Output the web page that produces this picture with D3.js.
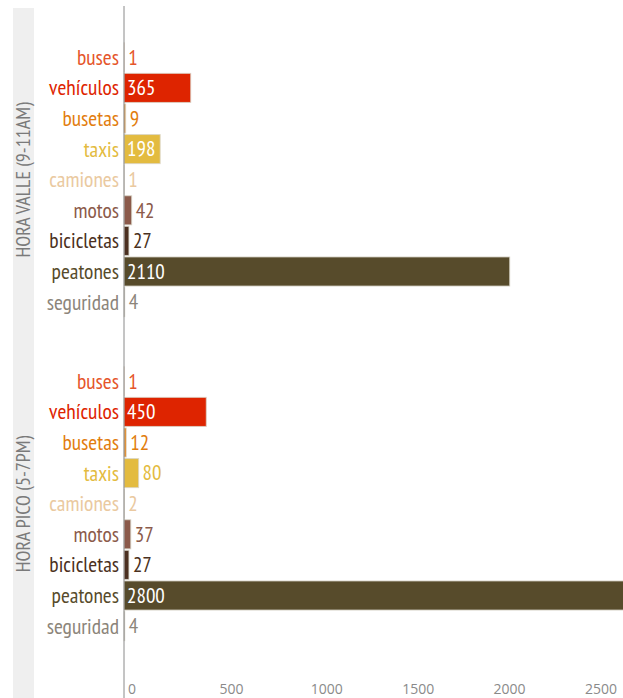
<!DOCTYPE html>
<html>
<head>
<meta charset="utf-8">
<script src="https://cdn.jsdelivr.net/npm/d3@7/dist/d3.min.js"></script>
<style>
  html, body { margin: 0; padding: 0; background: #fff; }
  svg { display: block; font-family: "PT Sans Narrow", "Liberation Sans Narrow", "Roboto Condensed", "DejaVu Sans Condensed", "Open Sans", sans-serif; }
  .tick-label { font-family: "Open Sans", "Noto Sans", sans-serif; }
</style>
</head>
<body>
<svg id="chart" width="623" height="698"></svg>
<script>
// Conteo por modo de transporte en dos franjas horarias
const groups = ["HORA VALLE (9-11AM)", "HORA PICO (5-7PM)"];
const categories = ["buses", "vehículos", "busetas", "taxis", "camiones", "motos", "bicicletas", "peatones", "seguridad"];
const valleValues = [1, 365, 9, 198, 1, 42, 27, 2110, 4];
const picoValues  = [1, 450, 12, 80, 2, 37, 27, 2800, 4];
const colors = ["#e5552a", "#de2400", "#e27d0e", "#e3bb40", "#eac9a0", "#8b5a4a", "#4b3020", "#574b2b", "#8c857a"];
const ticks = [0, 500, 1000, 1500, 2000, 2500];

const seriesByGroup = [valleValues, picoValues];

const svg = d3.select("#chart");
const W = 623, H = 698;

const x = d3.scaleLinear().domain([0, 2500]).range([124, 581]);

const g = d3.scaleBand().domain(groups).range([18, 666]).paddingInner(0).paddingOuter(0);
const y = d3.scaleBand().domain(categories).range([24, 24 + 275.4]).paddingInner(0.05).paddingOuter(0.025);

const color = d3.scaleOrdinal().domain(categories).range(colors);

// side strip holding the group titles
svg.append("rect")
  .attr("x", 13).attr("y", 8)
  .attr("width", 21).attr("height", H - 8)
  .attr("fill", "#efefef");

groups.forEach((grp, gi) => {
  const top = g(grp);
  const data = categories.map((c, i) => ({ cat: c, value: seriesByGroup[gi][i] }));
  const layer = svg.append("g").attr("transform", `translate(0,${top})`);

  // group title, rotated
  layer.append("text")
    .attr("transform", `translate(30,${g.bandwidth() / 2}) rotate(-90)`)
    .attr("text-anchor", "middle")
    .attr("fill", "#7a7a7a")
    .attr("font-size", 20)
    .text(grp);

  // bars
  layer.selectAll("rect.bar")
    .data(data)
    .enter().append("rect")
    .attr("class", "bar")
    .attr("x", x(0))
    .attr("y", d => y(d.cat))
    .attr("width", d => Math.max(x(d.value) - x(0), 0))
    .attr("height", y.bandwidth())
    .attr("fill", d => color(d.cat))
    .attr("stroke", "#d8d4c8")
    .attr("stroke-opacity", 0.8)
    .attr("stroke-width", 1);

  // category labels
  layer.selectAll("text.cat")
    .data(data)
    .enter().append("text")
    .attr("class", "cat")
    .attr("x", 119)
    .attr("y", d => y(d.cat) + y.bandwidth() / 2)
    .attr("dy", "0.35em")
    .attr("text-anchor", "end")
    .attr("font-size", 21.5)
    .attr("fill", d => color(d.cat))
    .text(d => d.cat);

  // value labels: inside the bar when it fits, otherwise just past its end
  layer.selectAll("text.val")
    .data(data)
    .enter().append("text")
    .attr("class", "val")
    .attr("y", d => y(d.cat) + y.bandwidth() / 2)
    .attr("dy", "0.35em")
    .attr("font-size", 21)
    .text(d => d.value)
    .each(function (d) {
      const t = d3.select(this);
      const w = this.getComputedTextLength();
      const bw = x(d.value) - x(0);
      if (bw > w + 6) {
        t.attr("x", x(0) + 3).attr("fill", "#fff");
      } else {
        t.attr("x", x(d.value) + 4).attr("fill", color(d.cat));
      }
    });
});

// x axis: vertical baseline plus tick labels along the bottom
svg.append("line")
  .attr("x1", x(0)).attr("x2", x(0))
  .attr("y1", 6).attr("y2", H)
  .attr("stroke", "#8a8a8a").attr("stroke-width", 1);

svg.append("g").selectAll("text")
  .data(ticks)
  .enter().append("text")
  .attr("class", "tick-label")
  .attr("x", d => x(d) + 4)
  .attr("y", 694)
  .attr("font-size", 14)
  .attr("fill", "#8a8a8a")
  .text(d => d);
</script>
</body>
</html>
